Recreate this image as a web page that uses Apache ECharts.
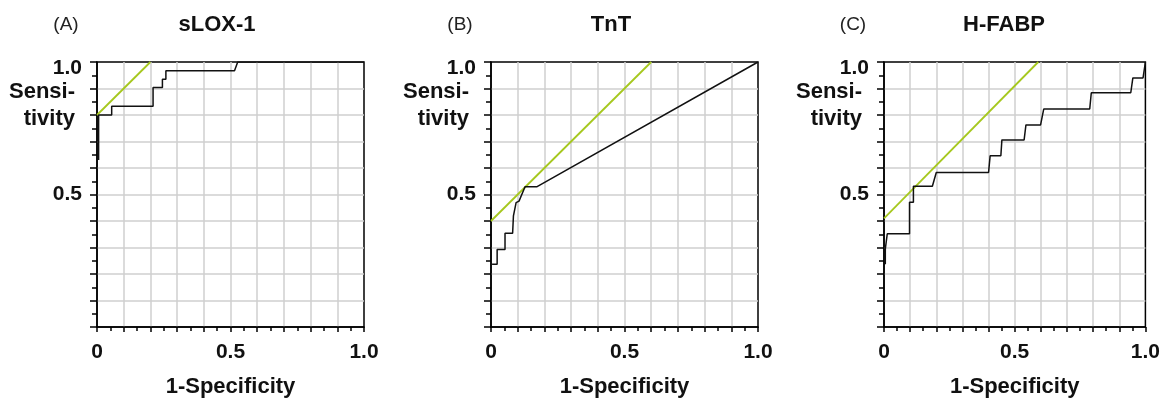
<!DOCTYPE html>
<html>
<head>
<meta charset="utf-8">
<script src="https://cdn.jsdelivr.net/npm/echarts@6/dist/echarts.min.js"></script>
<style>
html, body { margin: 0; padding: 0; background: #fff; }
#main { width: 1163px; height: 403px; }
</style>
</head>
<body>
<div id="main"></div>
<script>
// panel names
var panelTags = ['(A)', '(B)', '(C)'];
var panelNames = ['sLOX-1', 'TnT', 'H-FABP'];

// tick labels shown on the axes
var xLabelVals = [0, 0.5, 1];
var xLabelText = ['0', '0.5', '1.0'];
var yLabelVals = [0.5, 1];
var yLabelText = ['0.5', '1.0'];

// ROC curves: [1-specificity, sensitivity]
var rocA = [[0.006, 0.63], [0.006, 0.80], [0.055, 0.80], [0.055, 0.833], [0.21, 0.833], [0.21, 0.904],
	[0.245, 0.904], [0.245, 0.935], [0.258, 0.935], [0.258, 0.967], [0.515, 0.967], [0.527, 1.0], [1.0, 1.0]];
var rocB = [[0.004, 0.237], [0.023, 0.237], [0.023, 0.292], [0.0525, 0.292], [0.0525, 0.354], [0.081, 0.354],
	[0.084, 0.419], [0.094, 0.469], [0.105, 0.475], [0.1275, 0.529], [0.171, 0.529], [1.0, 1.0]];
var rocC = [[0.005, 0.237], [0.005, 0.294], [0.0125, 0.294], [0.0125, 0.352], [0.0976, 0.352], [0.0976, 0.471],
	[0.1125, 0.471], [0.1125, 0.531], [0.185, 0.531], [0.2, 0.583], [0.4, 0.583], [0.406, 0.646],
	[0.447, 0.646], [0.451, 0.706], [0.536, 0.706], [0.543, 0.7625], [0.599, 0.7625], [0.611, 0.8225],
	[0.787, 0.8225], [0.793, 0.884], [0.944, 0.884], [0.952, 0.94], [0.991, 0.94], [1.0, 1.0]];

// green tangent lines (slope 1)
var tanA = [[0, 0.80], [0.20, 1.0]];
var tanB = [[0, 0.40], [0.60, 1.0]];
var tanC = [[0, 0.41], [0.59, 1.0]];

var rocs = [rocA, rocB, rocC];
var tans = [tanA, tanB, tanC];

var FONT = '"Liberation Sans", Arial, sans-serif';
var gridLeft = [97, 491, 884];
var gridTop = 62, gridSize = 267;

function pick(vals, texts) {
	return function (v) {
		for (var k = 0; k < vals.length; k++) {
			if (Math.abs(v - vals[k]) < 1e-6) return texts[k];
		}
		return '';
	};
}
var xFmt = pick(xLabelVals, xLabelText);
var yFmt = function (v) {
	var t = pick(yLabelVals, yLabelText)(v);
	if (t === '1.0') return '{top|' + t + '}';   // top label hangs just below the frame
	return t;
};

var grids = [], xAxes = [], yAxes = [], series = [], graphics = [];

for (var i = 0; i < 3; i++) {
	grids.push({
		left: gridLeft[i], top: gridTop, width: gridSize, height: gridSize,
		show: true, borderColor: '#000', borderWidth: 1.5, backgroundColor: 'transparent'
	});
	xAxes.push({
		gridIndex: i, type: 'value', min: 0, max: 1, interval: 0.1,
		axisLine: { lineStyle: { color: '#000', width: 1.5 } },
		axisTick: { length: 5, lineStyle: { color: '#000', width: 1.5 } },
		minorTick: { show: true, splitNumber: 2, length: 4, lineStyle: { color: '#000', width: 1.5 } },
		splitLine: { show: true, showMinLine: false, showMaxLine: false, lineStyle: { color: '#cfcfcf', width: 1.5 } },
		axisLabel: {
			margin: 15, formatter: xFmt, showMinLabel: true, showMaxLabel: true, hideOverlap: false,
			fontSize: 21, fontWeight: 'bold', color: '#111', fontFamily: FONT
		},
		name: '1-Specificity', nameLocation: 'middle', nameGap: 49,
		nameTextStyle: { fontSize: 22, fontWeight: 'bold', color: '#111', fontFamily: FONT }
	});
	yAxes.push({
		gridIndex: i, type: 'value', min: 0, max: 1, interval: 0.1,
		axisLine: { lineStyle: { color: '#000', width: 1.5 } },
		axisTick: { length: 7, lineStyle: { color: '#000', width: 1.5 } },
		minorTick: { show: true, splitNumber: 2, length: 5, lineStyle: { color: '#000', width: 1.5 } },
		splitLine: { show: true, showMinLine: false, showMaxLine: false, lineStyle: { color: '#cfcfcf', width: 1.5 } },
		axisLabel: {
			margin: 15, formatter: yFmt, showMinLabel: true, showMaxLabel: true, hideOverlap: false,
			fontSize: 21, fontWeight: 'bold', color: '#111', fontFamily: FONT,
			rich: { top: { padding: [12, 0, 0, 0], fontSize: 21, fontWeight: 'bold', color: '#111', fontFamily: FONT } }
		}
	});
	series.push({
		type: 'line', xAxisIndex: i, yAxisIndex: i, data: tans[i],
		showSymbol: false, silent: true, z: 3,
		lineStyle: { color: '#a6c81e', width: 1.8 }
	});
	series.push({
		type: 'line', xAxisIndex: i, yAxisIndex: i, data: rocs[i],
		showSymbol: false, silent: true, z: 4,
		lineStyle: { color: '#111', width: 1.5 }
	});

	// panel letter, title, y-axis name
	graphics.push({
		type: 'text', x: gridLeft[i] - 31, y: 25,
		style: { text: panelTags[i], font: '19px ' + FONT, fill: '#222', align: 'center', verticalAlign: 'middle' }
	});
	graphics.push({
		type: 'text', x: gridLeft[i] + 120, y: 25,
		style: { text: panelNames[i], font: 'bold 22px ' + FONT, fill: '#111', align: 'center', verticalAlign: 'middle' }
	});
	graphics.push({
		type: 'text', x: gridLeft[i] - 22, y: 105,
		style: { text: 'Sensi-\ntivity', font: 'bold 22px ' + FONT, fill: '#111', align: 'right', verticalAlign: 'middle', lineHeight: 27 }
	});
}

var myChart = echarts.init(document.getElementById('main'));
myChart.setOption({
	animation: false,
	backgroundColor: '#fff',
	grid: grids,
	xAxis: xAxes,
	yAxis: yAxes,
	series: series,
	graphic: graphics
});
</script>
</body>
</html>
